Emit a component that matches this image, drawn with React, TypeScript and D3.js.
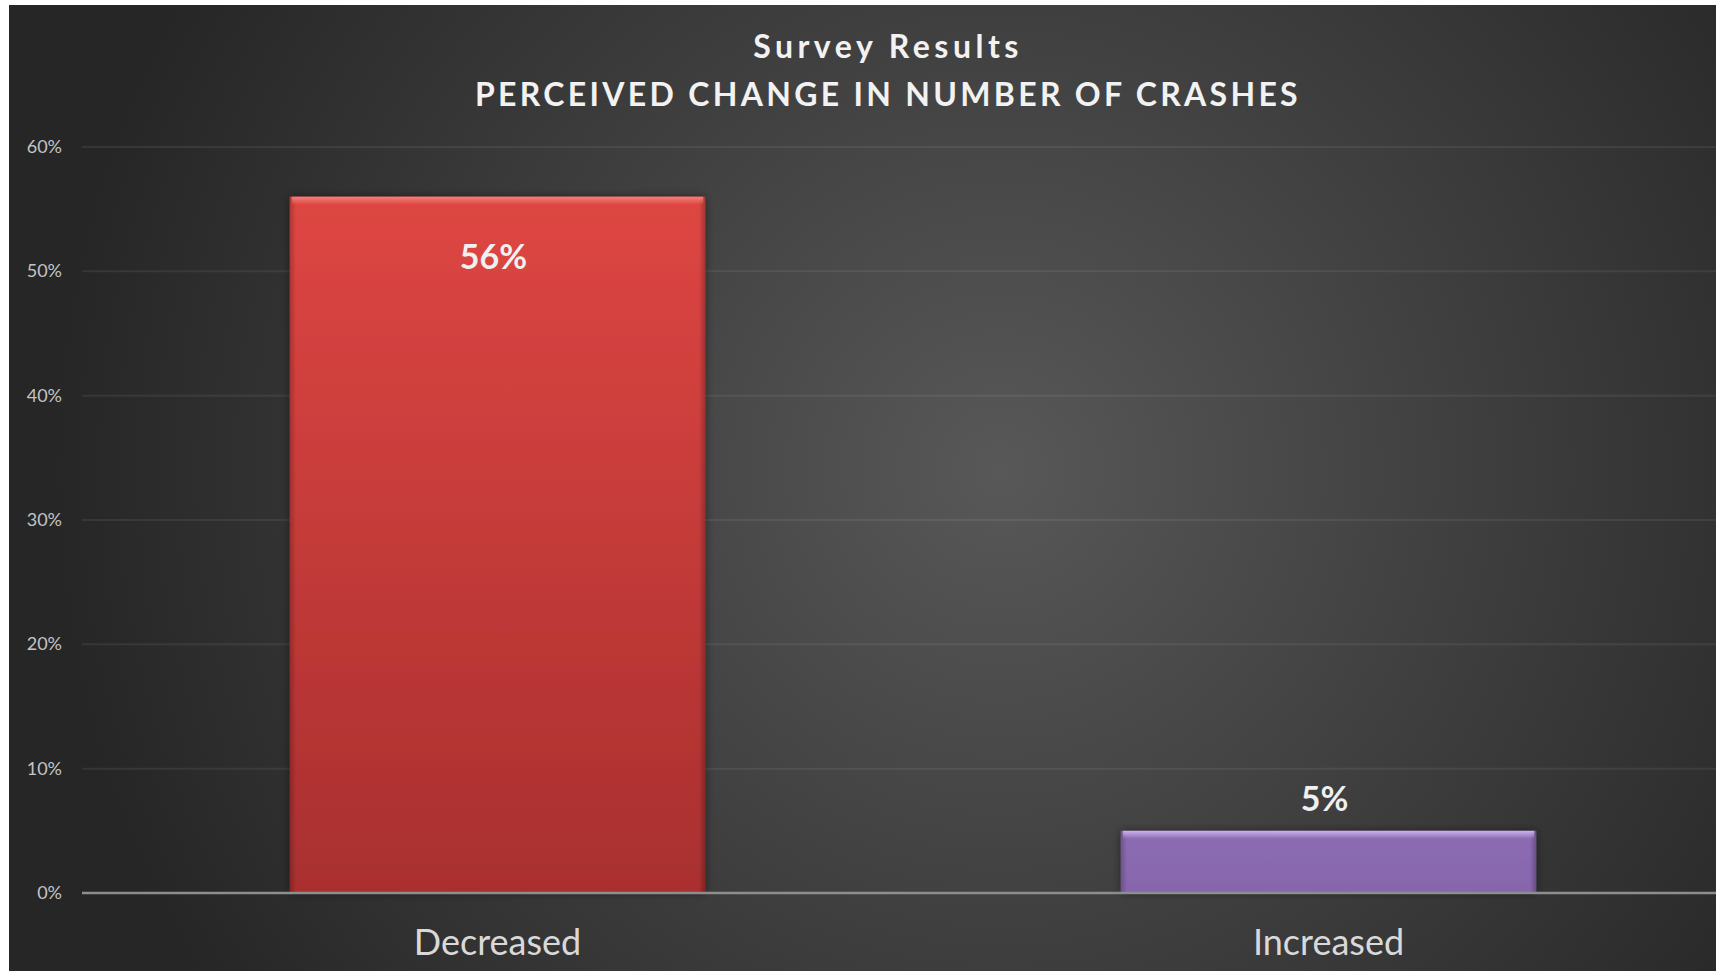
import React, { useEffect } from "react";
import * as d3 from "d3";

const categories = ["Decreased", "Increased"];
const values = [0.56, 0.05];
const yTicks = [0, 0.1, 0.2, 0.3, 0.4, 0.5, 0.6];
const titleLines = ["Survey Results", "PERCEIVED CHANGE IN NUMBER OF CRASHES"];

const W = 1716;
const H = 971;
const FONT = "Lato, 'Open Sans', sans-serif";

const barStyles = [
  { top: "#de4643", bottom: "#a92f2f", bevel: "#f5807a", edge: "#8e2424" },
  { top: "#8c6db3", bottom: "#8765ac", bevel: "#cdb2ee", edge: "#6a4f8c" },
];

export default function App() {
  useEffect(() => {
    document.body.style.margin = "0";
  }, []);

  const x = d3
    .scaleBand<string>()
    .domain(categories)
    .range([82, 1744])
    .paddingInner(0.5)
    .paddingOuter(0.25);
  const y = d3.scaleLinear().domain([0, 0.6]).range([893, 147]);
  const fmt = d3.format(".0%");

  return (
    <svg width={W} height={H} style={{ display: "block" }}>
      <defs>
        <radialGradient id="bg" gradientUnits="userSpaceOnUse" cx={1000} cy={470} r={950}>
          <stop offset="0" stopColor="#585858" />
          <stop offset="0.45" stopColor="#414141" />
          <stop offset="1" stopColor="#262626" />
        </radialGradient>
        {barStyles.map((s, i) => (
          <linearGradient key={i} id={`bar${i}`} x1="0" y1="0" x2="0" y2="1">
            <stop offset="0" stopColor={s.top} />
            <stop offset="1" stopColor={s.bottom} />
          </linearGradient>
        ))}
        {barStyles.map((s, i) => (
          <linearGradient key={i} id={`bevel${i}`} x1="0" y1="0" x2="0" y2="1">
            <stop offset="0" stopColor={s.bevel} stopOpacity="1" />
            <stop offset="1" stopColor={s.bevel} stopOpacity="0" />
          </linearGradient>
        ))}
        <linearGradient id="sides" x1="0" y1="0" x2="1" y2="0">
          <stop offset="0" stopColor="#000" stopOpacity="0.22" />
          <stop offset="0.015" stopColor="#000" stopOpacity="0" />
          <stop offset="0.985" stopColor="#000" stopOpacity="0" />
          <stop offset="1" stopColor="#000" stopOpacity="0.25" />
        </linearGradient>
        <filter id="shadow" x="-10%" y="-10%" width="120%" height="120%">
          <feDropShadow dx="0" dy="0" stdDeviation="5" floodColor="#000" floodOpacity="0.45" />
        </filter>
      </defs>
      <rect x={0} y={0} width={W} height={H} fill="#ffffff" />
      <rect x={9} y={5} width={W - 9} height={H - 5} fill="url(#bg)" />

      {/* title */}
      {titleLines.map((t, i) => (
        <text
          key={i}
          x={888}
          y={i === 0 ? 58 : 106}
          textAnchor="middle"
          fontFamily={FONT}
          fontWeight={700}
          fontSize={32}
          letterSpacing={i === 0 ? 4.5 : 3.3}
          fill="#f2f2f2"
        >
          {t}
        </text>
      ))}

      {/* gridlines and y tick labels */}
      {yTicks.map((t) => (
        <g key={t}>
          {t > 0 && (
            <line
              x1={82}
              x2={W}
              y1={y(t)}
              y2={y(t)}
              stroke="#ffffff"
              strokeOpacity={0.07}
              strokeWidth={2}
            />
          )}
          <text
            x={62}
            y={y(t) + 6}
            textAnchor="end"
            fontFamily={FONT}
            fontSize={18}
            fill="#c4c4c4"
          >
            {fmt(t)}
          </text>
        </g>
      ))}

      {/* bars */}
      {categories.map((c, i) => {
        const bx = x(c)!;
        const bw = x.bandwidth();
        const by = y(values[i]);
        const bh = y(0) - by;
        return (
          <g key={c}>
            <rect x={bx} y={by} width={bw} height={bh} fill={`url(#bar${i})`} filter="url(#shadow)" />
            <rect x={bx} y={by} width={bw} height={bh} fill="url(#sides)" />
            <rect x={bx + 2} y={by} width={bw - 4} height={Math.min(8, bh)} fill={`url(#bevel${i})`} />
          </g>
        );
      })}

      {/* axis line */}
      <line x1={82} x2={W} y1={y(0)} y2={y(0)} stroke="#8e8e8e" strokeWidth={2.5} />

      {/* data labels */}
      {categories.map((c, i) => {
        const cx = x(c)! + x.bandwidth() / 2;
        const inside = values[i] > 0.2;
        return (
          <text
            key={c}
            x={cx - 4}
            y={inside ? y(values[i]) + 72 : y(values[i]) - 20}
            textAnchor="middle"
            fontFamily={FONT}
            fontWeight={700}
            fontSize={34}
            fill="#f0f0f0"
          >
            {fmt(values[i])}
          </text>
        );
      })}

      {/* x labels */}
      {categories.map((c) => (
        <text
          key={c}
          x={x(c)! + x.bandwidth() / 2}
          y={955}
          textAnchor="middle"
          fontFamily={FONT}
          fontSize={36}
          fill="#d9d9d9"
        >
          {c}
        </text>
      ))}
    </svg>
  );
}
